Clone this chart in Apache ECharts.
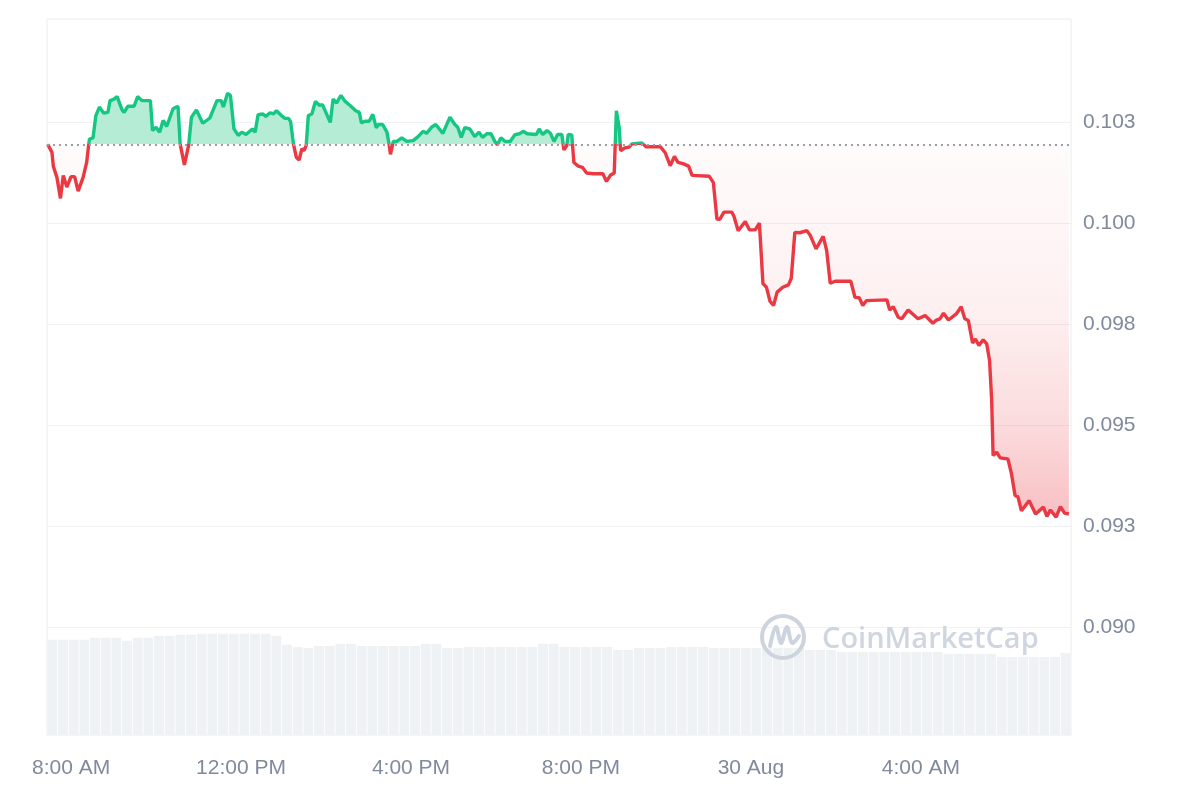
<!DOCTYPE html>
<html>
<head>
<meta charset="utf-8">
<script src="https://cdn.jsdelivr.net/npm/echarts@6/dist/echarts.min.js"></script>
<style>html,body{margin:0;padding:0;background:#fff}#c{width:1200px;height:800px}</style>
</head>
<body>
<div id="c"></div>
<script>
// Minutes after 8:00 AM (29 Aug)
const times = [-33,-27,-25,-20,-15,-11,-6,0,5,10,17,22,25,26,31,35,40,46,52,55,60,65,72,75,80,89,94,100,112,115,120,125,130,135,144,151,154,160,166,170,177,186,196,206,212,215,221,225,230,236,241,247,256,260,264,271,275,281,286,290,297,302,307,310,314,318,322,326,329,332,335,340,345,351,355,366,370,375,381,387,394,402,407,410,415,421,426,431,434,440,446,449,451,455,460,467,474,483,490,497,502,509,515,525,535,542,546,551,556,563,570,576,581,587,593,599,602,607,613,620,627,633,639,644,657,661,666,672,677,682,687,693,696,700,702,707,710,716,722,728,737,751,756,762,767,770,774,776,782,788,792,806,812,832,839,846,852,857,864,872,877,901,907,912,916,922,933,936,942,952,958,966,972,977,982,987,992,997,1005,1013,1017,1022,1029,1039,1044,1052,1062,1067,1072,1079,1101,1107,1113,1118,1123,1152,1156,1161,1168,1173,1182,1196,1206,1217,1222,1227,1232,1239,1250,1257,1262,1267,1273,1277,1282,1288,1293,1297,1300,1302,1307,1312,1323,1328,1333,1337,1342,1353,1362,1373,1378,1383,1391,1397,1403,1409];
const prices = [0.10195,0.10175,0.10140,0.10113,0.10061,0.10118,0.10089,0.10115,0.10115,0.10079,0.10113,0.10150,0.10196,0.10208,0.10211,0.10266,0.10287,0.10272,0.10274,0.10303,0.10306,0.10313,0.10280,0.10274,0.10289,0.10289,0.10313,0.10303,0.10303,0.10229,0.10237,0.10225,0.10254,0.10239,0.10283,0.10289,0.10196,0.10144,0.10192,0.10262,0.10280,0.10247,0.10260,0.10303,0.10303,0.10287,0.10321,0.10316,0.10233,0.10217,0.10225,0.10219,0.10233,0.10225,0.10268,0.10270,0.10264,0.10273,0.10270,0.10278,0.10266,0.10259,0.10259,0.10251,0.10196,0.10163,0.10156,0.10184,0.10179,0.10192,0.10266,0.10270,0.10301,0.10291,0.10293,0.10249,0.10307,0.10297,0.10316,0.10301,0.10291,0.10278,0.10274,0.10248,0.10252,0.10252,0.10269,0.10236,0.10244,0.10244,0.10225,0.10196,0.10170,0.10202,0.10202,0.10211,0.10202,0.10204,0.10214,0.10227,0.10222,0.10237,0.10244,0.10222,0.10262,0.10244,0.10237,0.10212,0.10236,0.10233,0.10214,0.10225,0.10212,0.10221,0.10221,0.10200,0.10194,0.10211,0.10202,0.10202,0.10219,0.10221,0.10227,0.10221,0.10219,0.10233,0.10219,0.10229,0.10222,0.10202,0.10219,0.10219,0.10181,0.10192,0.10219,0.10218,0.10150,0.10141,0.10138,0.10124,0.10122,0.10122,0.10103,0.10119,0.10124,0.10278,0.10237,0.10179,0.10186,0.10188,0.10196,0.10198,0.10189,0.10189,0.10174,0.10142,0.10165,0.10150,0.10147,0.10141,0.10118,0.10116,0.10100,0.10010,0.10009,0.10027,0.10027,0.10017,0.09981,0.10004,0.09983,0.09983,0.10000,0.09850,0.09841,0.09806,0.09796,0.09829,0.09841,0.09847,0.09863,0.09977,0.09976,0.09981,0.09969,0.09936,0.09967,0.09932,0.09851,0.09856,0.09856,0.09816,0.09815,0.09796,0.09808,0.09810,0.09785,0.09793,0.09767,0.09763,0.09785,0.09763,0.09771,0.09752,0.09760,0.09763,0.09777,0.09760,0.09775,0.09793,0.09763,0.09759,0.09703,0.09713,0.09697,0.09711,0.09701,0.09660,0.09561,0.09425,0.09433,0.09419,0.09416,0.09379,0.09326,0.09323,0.09288,0.09313,0.09280,0.09297,0.09274,0.09290,0.09272,0.09298,0.09282,0.09280];
const basePrice = 0.10195;
// 15-minute volume bars (relative units)
const volumes = [95,95,95,95,97,97,97,94,97,97,99,99,100,100,101,101,101,101,101,101,101,99,90,88,87,89,89,91,91,89,89,89,89,89,89,91,91,87,87,88,88,88,88,88,88,88,91,91,88,88,88,88,88,85,85,87,87,87,88,88,88,88,87,87,87,87,87,87,87,87,87,85,85,85,83,83,83,83,83,83,83,83,83,83,81,81,81,81,81,78,78,78,78,78,78,82];
const volumeAxisMax = 715;
const yTickValues = [0.09, 0.0925, 0.095, 0.0975, 0.1, 0.1025];
const yTickLabels = ['0.090', '0.093', '0.095', '0.098', '0.100', '0.103'];
const xTickValues = [0, 240, 480, 720, 960, 1200];
const xTickLabels = ['8:00 AM', '12:00 PM', '4:00 PM', '8:00 PM', '30 Aug', '4:00 AM'];
const xMin = -34, xMax = 1412;
const yMin = 0.08733, yMax = 0.10505;

const GREEN = '#16c784', RED = '#ea3943';
const maxP = Math.max(...prices), minP = Math.min(...prices);
const frac = (maxP - basePrice) / (maxP - minP);
const fillGrad = new echarts.graphic.LinearGradient(0, 0, 0, 1, [
  {offset: 0, color: '#b4ecd5'},
  {offset: frac, color: '#b4ecd5'},
  {offset: frac, color: 'rgba(234,57,67,0.02)'},
  {offset: frac + (1 - frac) * 0.45, color: 'rgba(234,57,67,0.08)'},
  {offset: frac + (1 - frac) * 0.75, color: 'rgba(234,57,67,0.18)'},
  {offset: 1, color: 'rgba(234,57,67,0.32)'}
]);

const chart = echarts.init(document.getElementById('c'), null, {renderer: 'canvas'});
const labelFont = {color: '#808a9d', fontSize: 21, fontFamily: 'Liberation Sans, Arial, sans-serif'};
chart.setOption({
  animation: false,
  backgroundColor: '#fff',
  grid: {left: 47, right: 129, top: 19, bottom: 65, show: true, borderColor: '#eaecef', borderWidth: 1},
  xAxis: [{
    type: 'value', min: xMin, max: xMax,
    axisLine: {show: false}, axisTick: {show: false, customValues: xTickValues}, splitLine: {show: false},
    axisLabel: Object.assign({customValues: xTickValues, margin: 23,
      formatter: v => xTickLabels[xTickValues.indexOf(v)] || ''}, labelFont)
  }, {
    type: 'category', data: volumes.map((v, i) => i), show: false, boundaryGap: true
  }],
  yAxis: [{
    type: 'value', position: 'right', min: yMin, max: yMax,
    axisLine: {show: false}, axisTick: {show: false, customValues: yTickValues},
    splitLine: {show: true, lineStyle: {color: '#eff1f4', width: 1}},
    axisLabel: Object.assign({customValues: yTickValues, margin: 12,
      formatter: v => { const i = yTickValues.findIndex(t => Math.abs(t - v) < 1e-7); return i >= 0 ? yTickLabels[i] : ''; }}, labelFont)
  }, {
    type: 'value', min: 0, max: volumeAxisMax, show: false, splitLine: {show: false}
  }],
  visualMap: {
    show: false, type: 'piecewise', seriesIndex: 1, dimension: 1,
    pieces: [{gt: basePrice, lte: 1, color: GREEN}, {gt: 0, lte: basePrice, color: RED}],
    outOfRange: {color: RED}
  },
  series: [{
    type: 'bar', xAxisIndex: 1, yAxisIndex: 1, data: volumes,
    barCategoryGap: '8%', itemStyle: {color: '#eff2f5'}, silent: true, z: 1
  }, {
    type: 'line', xAxisIndex: 0, yAxisIndex: 0,
    data: times.map((t, i) => [t, prices[i]]),
    showSymbol: false, smooth: false, z: 3,
    lineStyle: {width: 3.4},
    areaStyle: {origin: basePrice, color: fillGrad, opacity: 1},
    markLine: {
      silent: true, symbol: 'none', label: {show: false}, precision: 8,
      lineStyle: {color: '#9aa0aa', type: [2, 4], width: 2},
      data: [{yAxis: basePrice}]
    }
  }],
  graphic: [
    {type: 'circle', shape: {cx: 783, cy: 637, r: 21}, style: {fill: 'none', stroke: '#cdd4de', lineWidth: 4}, z: 50},
    {type: 'polyline', shape: {points: [[770, 646], [776, 627], [781, 643], [787, 627], [792, 643], [799, 636]], smooth: 0.35},
      style: {fill: 'none', stroke: '#cdd4de', lineWidth: 4, lineCap: 'round', lineJoin: 'round'}, z: 50},
    {type: 'text', x: 822, y: 640, style: {text: 'CoinMarketCap', fontSize: 29, fontWeight: 600, fontFamily: 'Open Sans, sans-serif', fill: '#cfd6e0', verticalAlign: 'middle'}, z: 50}
  ]
});
</script>
</body>
</html>
